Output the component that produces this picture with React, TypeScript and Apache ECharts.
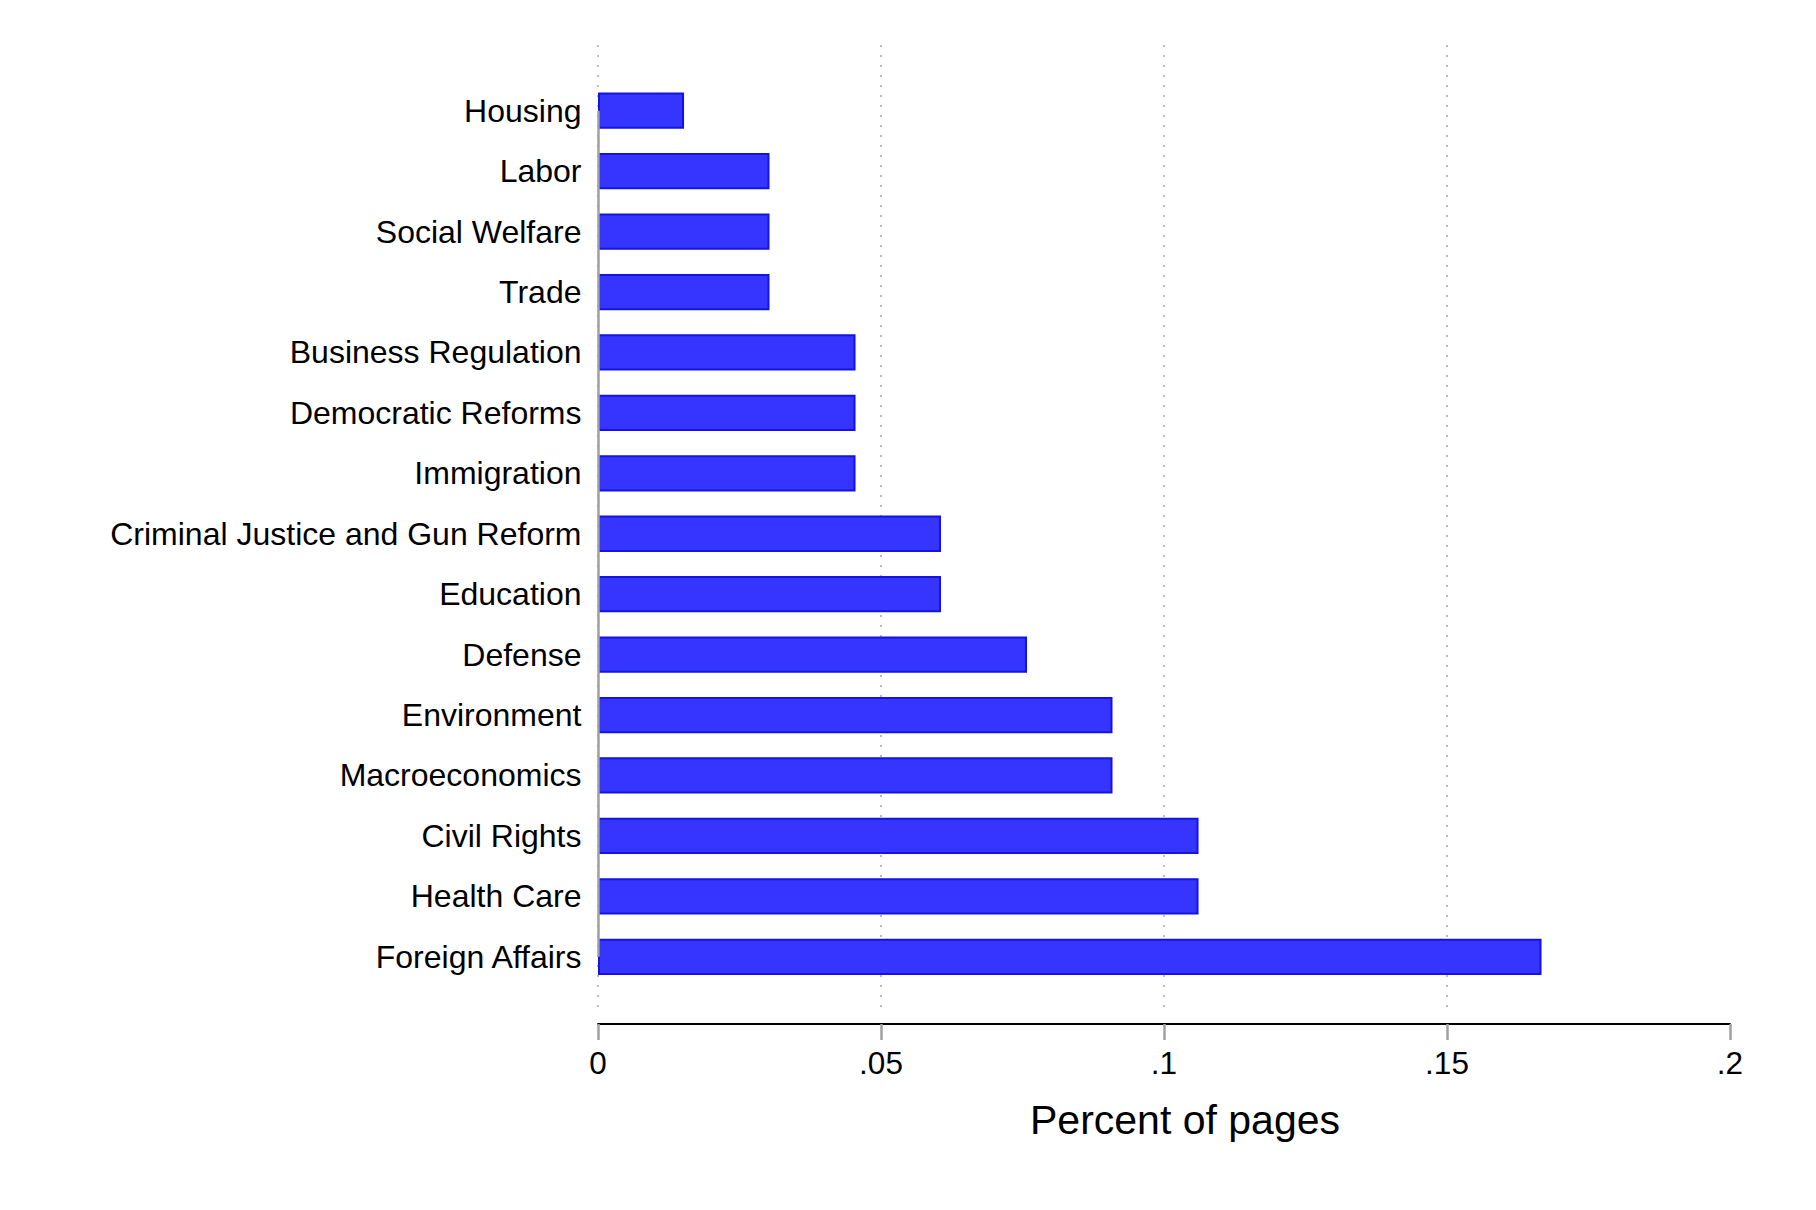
import React, { useEffect, useRef } from "react";
import * as echarts from "echarts";

const categories: string[] = [
  "Housing",
  "Labor",
  "Social Welfare",
  "Trade",
  "Business Regulation",
  "Democratic Reforms",
  "Immigration",
  "Criminal Justice and Gun Reform",
  "Education",
  "Defense",
  "Environment",
  "Macroeconomics",
  "Civil Rights",
  "Health Care",
  "Foreign Affairs",
];

const percentOfPages: number[] = [
  0.0152, 0.0303, 0.0303, 0.0303, 0.0455, 0.0455, 0.0455, 0.0606, 0.0606,
  0.0758, 0.0909, 0.0909, 0.1061, 0.1061, 0.1667,
];

const tickValues: number[] = [0, 0.05, 0.1, 0.15, 0.2];
const tickLabels: string[] = ["0", ".05", ".1", ".15", ".2"];
const axisTitle = "Percent of pages";

const FONT = "'Liberation Sans', Arial, Helvetica, sans-serif";

export default function App() {
  const ref = useRef<HTMLDivElement>(null);

  useEffect(() => {
    document.body.style.margin = "0";
    if (!ref.current) return;
    const chart = echarts.init(ref.current, undefined, { renderer: "svg" });
    const left = 598;
    const right = 86;
    chart.setOption({
      animation: false,
      backgroundColor: "#ffffff",
      textStyle: { fontFamily: FONT },
      grid: [
        { left, right, top: 80.5, bottom: 223, containLabel: false },
        { left, right, top: 45, bottom: 195, containLabel: false },
      ],
      xAxis: [
        {
          gridIndex: 0,
          type: "value",
          min: tickValues[0],
          max: tickValues[tickValues.length - 1],
          interval: 0.05,
          show: false,
          splitLine: { show: false },
        },
        {
          gridIndex: 1,
          type: "value",
          position: "bottom",
          min: tickValues[0],
          max: tickValues[tickValues.length - 1],
          interval: 0.05,
          offset: 9,
          axisLine: {
            show: true,
            onZero: false,
            lineStyle: { color: "#000", width: 2 },
          },
          axisTick: {
            show: true,
            length: 16,
            lineStyle: { color: "#a0a0a0", width: 2.5 },
          },
          axisLabel: {
            color: "#000",
            fontSize: 31.5,
            fontFamily: FONT,
            margin: 23,
            formatter: (v: number) => {
              const i = tickValues.findIndex((t) => Math.abs(t - v) < 1e-9);
              return i >= 0 ? tickLabels[i] : "";
            },
          },
          splitLine: {
            show: true,
            showMaxLine: false,
            lineStyle: { color: "#a8a8a8", width: 1.5, type: [2, 8] },
          },
          name: axisTitle,
          nameLocation: "middle",
          nameGap: 75,
          nameTextStyle: {
            color: "#000",
            fontSize: 41,
            fontFamily: FONT,
            padding: [0, 0, 0, 42],
          },
        },
      ],
      yAxis: [
        {
          gridIndex: 0,
          type: "category",
          data: categories,
          inverse: true,
          axisLine: { show: false },
          axisTick: { show: false },
          axisLabel: {
            color: "#000",
            fontSize: 32,
            fontFamily: FONT,
            margin: 16.5,
            padding: [2, 0, 0, 0],
          },
        },
        {
          gridIndex: 1,
          type: "value",
          min: 0,
          max: 1,
          show: false,
        },
      ],
      series: [
        {
          type: "bar",
          xAxisIndex: 0,
          yAxisIndex: 0,
          data: percentOfPages,
          barWidth: "60%",
          itemStyle: {
            color: "#3535ff",
            borderColor: "#1414e0",
            borderWidth: 2,
          },
          markLine: {
            silent: true,
            symbol: "none",
            label: { show: false },
            lineStyle: { color: "#a0a0a0", width: 2.5, type: "solid" },
            data: [
              [
                { coord: [0, categories[0]] },
                { coord: [0, categories[categories.length - 1]] },
              ],
            ],
          },
        },
      ],
    });
    return () => chart.dispose();
  }, []);

  return <div ref={ref} style={{ width: 1816, height: 1210 }} />;
}
